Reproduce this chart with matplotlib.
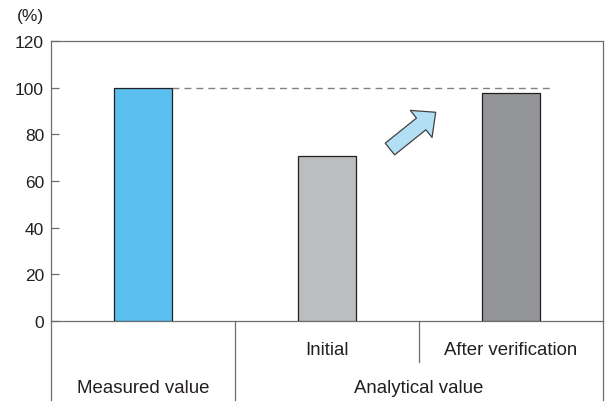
import matplotlib
matplotlib.use("Agg")
import matplotlib.pyplot as plt
import matplotlib.transforms as mtransforms

plt.rcParams['font.family'] = ['Liberation Sans', 'DejaVu Sans']

# data
positions = [0, 1, 2]
values = [100, 70.5, 97.5]
bar_colors = ['#5bc0ef', '#bcbdc1', '#939598']
sub_labels = ['', 'Initial', 'After verification']
group_labels = ['Measured value', 'Analytical value']
group_centers = [0, 1.5]
yticks = [0, 20, 40, 60, 80, 100, 120]
ref_level = 100

text_color = '#231f20'
frame_color = '#6d6e71'

fig = plt.figure(figsize=(6.05, 4.06), dpi=100)
ax = fig.add_axes([0.0843, 0.2069, 0.9124, 0.6897])

ax.bar(positions, values, width=0.311, color=bar_colors,
       edgecolor='#231f20', linewidth=0.9, zorder=3)

ax.set_xlim(-0.5, 2.5)
ax.set_ylim(0, 120)
ax.set_yticks(yticks)
ax.set_xticks([])
ax.tick_params(axis='y', direction='in', length=5.5, width=0.9,
               color=frame_color, pad=5, labelsize=12.5, labelcolor=text_color)
for sp in ax.spines.values():
    sp.set_color(frame_color)
    sp.set_linewidth(0.9)

# dashed reference line from the first bar to just past the last one
ax.plot([0.1555, 2.21], [ref_level, ref_level], color='#808285',
        linewidth=1.0, dashes=(5, 3.6), zorder=2)

# arrow pointing up-right
ax.annotate('', xy=(1.5907, 89.45), xytext=(1.342, 73.7),
            arrowprops=dict(arrowstyle='simple,head_length=13.4,head_width=25,tail_width=10.8',
                            mutation_scale=1, facecolor='#b3dff5',
                            edgecolor='#414042', linewidth=0.9,
                            shrinkA=0, shrinkB=0))

ax.text(-0.0127, 1.09, '(%)', transform=ax.transAxes, ha='right', va='center',
        fontsize=12.5, color=text_color)

# category table below the axis
trans = mtransforms.blended_transform_factory(ax.transData, ax.transAxes)
line_kw = dict(color=frame_color, linewidth=0.9, clip_on=False)
ax.plot([0, 0], [0, -0.282], transform=ax.transAxes, **line_kw)
ax.plot([1, 1], [0, -0.282], transform=ax.transAxes, **line_kw)
ax.plot([0.5, 0.5], [0, -0.282], transform=trans, **line_kw)
ax.plot([1.5, 1.5], [0, -0.1475], transform=trans, **line_kw)

for p, lab in zip(positions, sub_labels):
    if lab:
        ax.text(p, -0.1025, lab, transform=trans, ha='center', va='center',
                fontsize=13.4, color=text_color)
for c, lab in zip(group_centers, group_labels):
    ax.text(c, -0.2368, lab, transform=trans, ha='center', va='center',
            fontsize=13.4, color=text_color)

fig.savefig('out.png', dpi=100)
